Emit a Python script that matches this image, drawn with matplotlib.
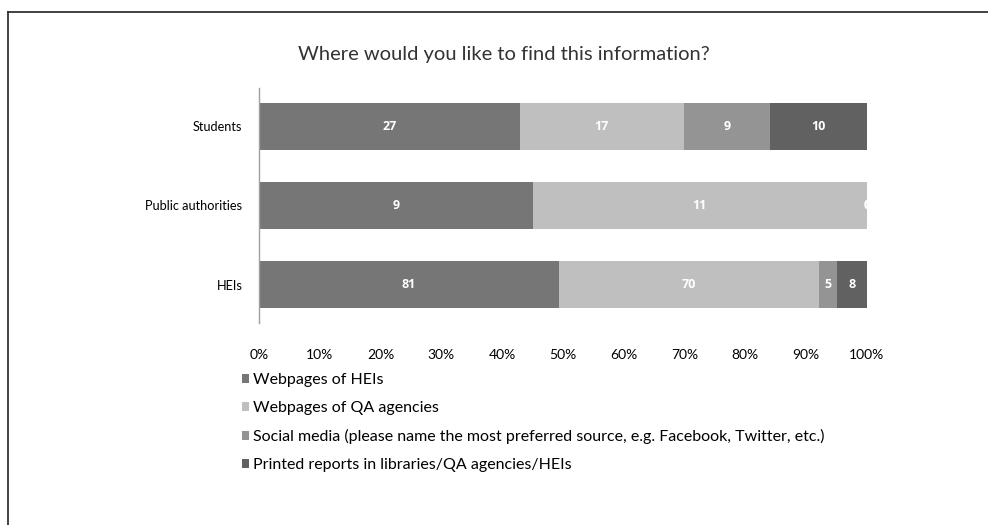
import matplotlib.pyplot as plt
from matplotlib.lines import Line2D
from matplotlib.patches import Patch
import numpy as np

plt.rcParams['font.family'] = ['Lato', 'DejaVu Sans']

# survey counts per respondent group
groups = ['Students', 'Public authorities', 'HEIs']
sources = ['Webpages of HEIs',
           'Webpages of QA agencies',
           'Social media (please name the most preferred source, e.g. Facebook, Twitter, etc.)',
           'Printed reports in libraries/QA agencies/HEIs']
webpages_hei = [27, 9, 81]
webpages_qa = [17, 11, 70]
social_media = [9, 0, 5]
printed = [10, 0, 8]
colors = ['#767676', '#bfbfbf', '#949494', '#616161']

counts = np.array([webpages_hei, webpages_qa, social_media, printed], dtype=float)
shares = counts / counts.sum(axis=0)

fig = plt.figure(figsize=(9.88, 5.25), dpi=100)
ax = fig.add_axes([0.2621, 0.3848, 0.6154, 0.4476])

y = np.arange(len(groups))
left = np.zeros(len(groups))
for k in range(len(sources)):
    ax.barh(y, shares[k], left=left, height=0.59, color=colors[k], label=sources[k])
    for i in range(len(groups)):
        ax.text(left[i] + shares[k][i] / 2, y[i], f'{int(counts[k][i])}',
                ha='center', va='center', color='white', fontsize=9,
                fontweight='bold', family=['Open Sans', 'DejaVu Sans'],
                clip_on=True)
    left += shares[k]

ax.set_xlim(0, 1)
ax.set_ylim(2.48, -0.48)
ax.set_yticks(y)
ax.set_yticklabels(groups, fontsize=9.2)
ax.set_xticks(np.linspace(0, 1, 11))
ax.set_xticklabels([f'{p}%' for p in range(0, 101, 10)], fontsize=10)
ax.tick_params(axis='both', length=0)
ax.tick_params(axis='x', pad=19)
ax.tick_params(axis='y', pad=12)
for s in ['top', 'right', 'bottom']:
    ax.spines[s].set_visible(False)
ax.spines['left'].set_color('#a0a0a0')
ax.spines['left'].set_linewidth(1)

fig.text(0.51, 0.897, 'Where would you like to find this information?',
         ha='center', va='center', fontsize=14.5, color='#333333')

handles = [Patch(facecolor=c, edgecolor='none') for c in colors]
fig.legend(handles, sources, loc='upper left', bbox_to_anchor=(0.245, 0.289),
           frameon=False, fontsize=11.5, handlelength=0.45, handleheight=0.45,
           handletextpad=0.25, labelspacing=0.87, borderaxespad=0, borderpad=0)

# outer frame (top and left only)
fig.add_artist(Line2D([8 / 988, 1], [1 - 12 / 525, 1 - 12 / 525],
                      transform=fig.transFigure, color='#333333', lw=1.3))
fig.add_artist(Line2D([8 / 988, 8 / 988], [0, 1 - 12 / 525],
                      transform=fig.transFigure, color='#333333', lw=1.3))

fig.savefig('out.png', dpi=100)
